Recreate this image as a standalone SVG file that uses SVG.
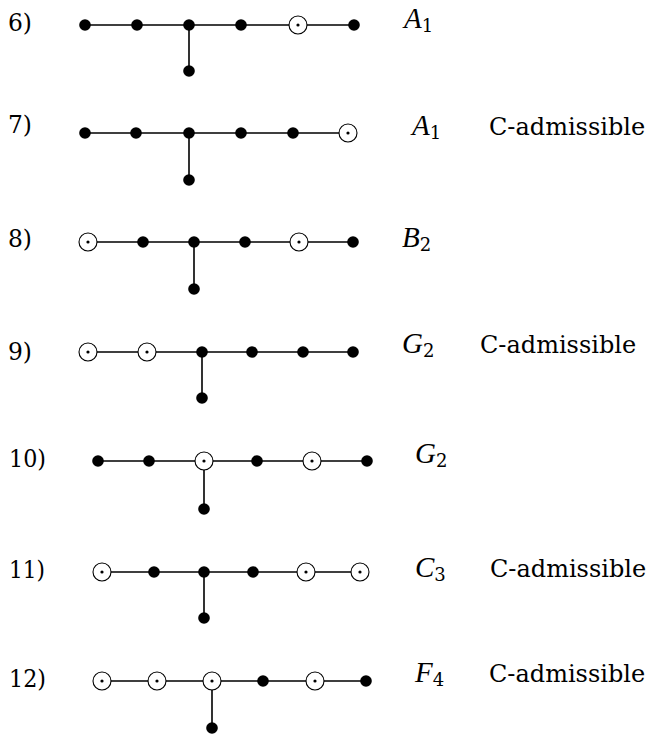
<svg xmlns="http://www.w3.org/2000/svg" xmlns:xlink="http://www.w3.org/1999/xlink" width="649" height="737" viewBox="0 0 649 737">
<style>
.e{stroke:#000;stroke-width:1.6;fill:none}
.f{fill:#000}
.o{fill:#fff;stroke:#000;stroke-width:1.1}
text{fill:#000}
.t{font-family:'DejaVu Serif',serif;font-size:25px}
.m{font-family:'Liberation Serif',serif;font-size:29px;font-style:italic}
.s{font-family:'DejaVu Serif',serif;font-size:18px;font-style:normal}
.c{font-family:'DejaVu Serif',serif;font-size:24px}
</style>
<defs>
<circle id="fd" class="f" r="5.8"/>
<g id="od"><circle class="o" r="9"/><circle class="f" r="1.6"/></g>
</defs>
<rect width="649" height="737" fill="#fff"/>
<g id="connectors">
<path class="e" d="M85 25H354M189 25V71"/>
<path class="e" d="M85 133H348M189 133V180"/>
<path class="e" d="M88 242H353M194 242V289"/>
<path class="e" d="M88 352H353M202 352V398"/>
<path class="e" d="M98 461H367M204 461V509"/>
<path class="e" d="M102 572H360M204 572V618"/>
<path class="e" d="M102 681H366M212 681V728"/>
</g>
<g id="row6">
<text class="t" x="8" y="31" textLength="24" lengthAdjust="spacingAndGlyphs">6)</text>
<g id="n6a"><use xlink:href="#fd" x="85" y="25"/></g>
<g id="n6b"><use xlink:href="#fd" x="137" y="25"/></g>
<g id="n6c"><use xlink:href="#fd" x="189" y="25"/></g>
<g id="n6d"><use xlink:href="#fd" x="241" y="25"/></g>
<g id="n6e"><use xlink:href="#od" x="298" y="25"/></g>
<g id="n6f"><use xlink:href="#fd" x="354" y="25"/></g>
<g id="n6g"><use xlink:href="#fd" x="189" y="71"/></g>
<text class="m" x="404" y="28">A<tspan class="s" dy="4">1</tspan></text>
</g>
<g id="row7">
<text class="t" x="8" y="133" textLength="24" lengthAdjust="spacingAndGlyphs">7)</text>
<g id="n7a"><use xlink:href="#fd" x="85" y="133"/></g>
<g id="n7b"><use xlink:href="#fd" x="136" y="133"/></g>
<g id="n7c"><use xlink:href="#fd" x="189" y="133"/></g>
<g id="n7d"><use xlink:href="#fd" x="241" y="133"/></g>
<g id="n7e"><use xlink:href="#fd" x="293" y="133"/></g>
<g id="n7f"><use xlink:href="#od" x="348" y="133"/></g>
<g id="n7g"><use xlink:href="#fd" x="189" y="180"/></g>
<text class="m" x="412" y="135">A<tspan class="s" dy="4">1</tspan></text>
<text class="c" x="489" y="135">C-admissible</text>
</g>
<g id="row8">
<text class="t" x="8" y="247" textLength="24" lengthAdjust="spacingAndGlyphs">8)</text>
<g id="n8a"><use xlink:href="#od" x="88" y="242"/></g>
<g id="n8b"><use xlink:href="#fd" x="143" y="242"/></g>
<g id="n8c"><use xlink:href="#fd" x="194" y="242"/></g>
<g id="n8d"><use xlink:href="#fd" x="245" y="242"/></g>
<g id="n8e"><use xlink:href="#od" x="299" y="242"/></g>
<g id="n8f"><use xlink:href="#fd" x="353" y="242"/></g>
<g id="n8g"><use xlink:href="#fd" x="194" y="289"/></g>
<text class="m" x="402" y="247">B<tspan class="s" dy="4">2</tspan></text>
</g>
<g id="row9">
<text class="t" x="8" y="360" textLength="24" lengthAdjust="spacingAndGlyphs">9)</text>
<g id="n9a"><use xlink:href="#od" x="88" y="352"/></g>
<g id="n9b"><use xlink:href="#od" x="147" y="352"/></g>
<g id="n9c"><use xlink:href="#fd" x="202" y="352"/></g>
<g id="n9d"><use xlink:href="#fd" x="252" y="352"/></g>
<g id="n9e"><use xlink:href="#fd" x="303" y="352"/></g>
<g id="n9f"><use xlink:href="#fd" x="353" y="352"/></g>
<g id="n9g"><use xlink:href="#fd" x="202" y="398"/></g>
<text class="m" x="402" y="353">G<tspan class="s" dy="4">2</tspan></text>
<text class="c" x="480" y="353">C-admissible</text>
</g>
<g id="row10">
<text class="t" x="9" y="467" textLength="37" lengthAdjust="spacingAndGlyphs">10)</text>
<g id="n10a"><use xlink:href="#fd" x="98" y="461"/></g>
<g id="n10b"><use xlink:href="#fd" x="149" y="461"/></g>
<g id="n10c"><use xlink:href="#od" x="204" y="461"/></g>
<g id="n10d"><use xlink:href="#fd" x="257" y="461"/></g>
<g id="n10e"><use xlink:href="#od" x="312" y="461"/></g>
<g id="n10f"><use xlink:href="#fd" x="367" y="461"/></g>
<g id="n10g"><use xlink:href="#fd" x="204" y="509"/></g>
<text class="m" x="415" y="463">G<tspan class="s" dy="4">2</tspan></text>
</g>
<g id="row11">
<text class="t" x="9" y="578" textLength="36" lengthAdjust="spacingAndGlyphs">11)</text>
<g id="n11a"><use xlink:href="#od" x="102" y="572"/></g>
<g id="n11b"><use xlink:href="#fd" x="154" y="572"/></g>
<g id="n11c"><use xlink:href="#fd" x="204" y="572"/></g>
<g id="n11d"><use xlink:href="#fd" x="253" y="572"/></g>
<g id="n11e"><use xlink:href="#od" x="306" y="572"/></g>
<g id="n11f"><use xlink:href="#od" x="360" y="572"/></g>
<g id="n11g"><use xlink:href="#fd" x="204" y="618"/></g>
<text class="m" x="415" y="577">C<tspan class="s" dy="4">3</tspan></text>
<text class="c" x="490" y="577">C-admissible</text>
</g>
<g id="row12">
<text class="t" x="9" y="687" textLength="37" lengthAdjust="spacingAndGlyphs">12)</text>
<g id="n12a"><use xlink:href="#od" x="102" y="681"/></g>
<g id="n12b"><use xlink:href="#od" x="157" y="681"/></g>
<g id="n12c"><use xlink:href="#od" x="212" y="681"/></g>
<g id="n12d"><use xlink:href="#fd" x="263" y="681"/></g>
<g id="n12e"><use xlink:href="#od" x="315" y="681"/></g>
<g id="n12f"><use xlink:href="#fd" x="366" y="681"/></g>
<g id="n12g"><use xlink:href="#fd" x="212" y="728"/></g>
<text class="m" x="415" y="682">F<tspan class="s" dy="4">4</tspan></text>
<text class="c" x="489" y="682">C-admissible</text>
</g>
</svg>
